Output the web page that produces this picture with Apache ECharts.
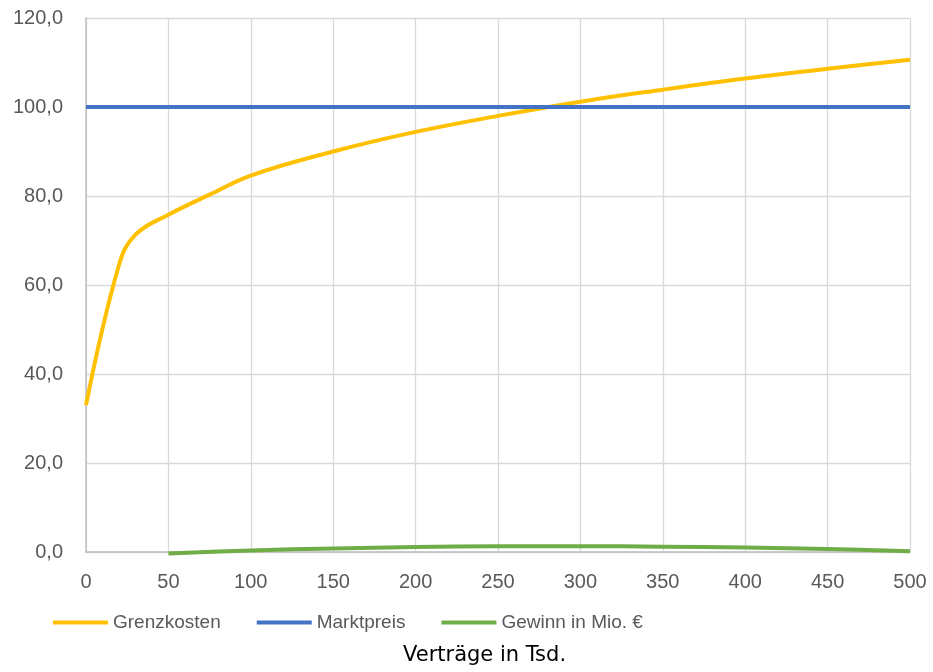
<!DOCTYPE html>
<html><head><meta charset="utf-8">
<script src="https://cdn.jsdelivr.net/npm/echarts@6/dist/echarts.min.js"></script>
<style>html,body{margin:0;padding:0;background:#fff}#c{width:933px;height:672px}</style>
</head><body><div id="c"></div>
<script>
const xGrenz = [0, 20, 30, 50, 75, 100, 150, 200, 250, 300, 350, 400, 450, 500];
const grenzkosten = [33.0, 64.5, 71.3, 75.8, 80.3, 84.6, 90.0, 94.4, 98.0, 101.2, 103.9, 106.4, 108.6, 110.6];
const xMarkt = [0, 500];
const marktpreis = [100, 100];
const xGewinn = [50, 100, 150, 200, 250, 300, 350, 400, 450, 500];
const gewinn = [-0.35, 0.35, 0.8, 1.1, 1.28, 1.3, 1.2, 1.0, 0.67, 0.15];
const xName = 'Verträge in Tsd.';

const pair = (xs, ys) => xs.map((x, i) => [x, ys[i]]);
const font = 'Liberation Sans, Arial, sans-serif';
const chart = echarts.init(document.getElementById('c'));
chart.setOption({
  animation: false,
  textStyle: {fontFamily: font},
  grid: {left: 86, right: 23, top: 18, bottom: 120, containLabel: false},
  legend: {
    top: 613, left: 53, itemWidth: 55, itemHeight: 4, itemGap: 36,
    icon: 'rect', padding: 0,
    textStyle: {color: '#595959', fontSize: 19, fontFamily: font},
    data: ['Grenzkosten', 'Marktpreis', 'Gewinn in Mio. €']
  },
  graphic: [{
    type: 'text', left: 403, top: 645,
    style: {text: xName, fill: '#000', font: '21px "DejaVu Sans"'}
  }],
  xAxis: {
    type: 'value', min: 0, max: 500, interval: 50,
    axisLine: {show: true, lineStyle: {color: '#bfbfbf', width: 1.5}},
    axisTick: {show: false},
    axisLabel: {color: '#595959', fontSize: 20, margin: 20},
    splitLine: {show: true, lineStyle: {color: '#d9d9d9', width: 1.3}}
  },
  yAxis: {
    type: 'value', min: 0, max: 120, interval: 20,
    axisLine: {show: true, lineStyle: {color: '#bfbfbf', width: 1.5}},
    axisTick: {show: false},
    axisLabel: {color: '#595959', fontSize: 20, margin: 23,
      formatter: v => v.toFixed(1).replace('.', ',')},
    splitLine: {show: true, lineStyle: {color: '#d9d9d9', width: 1.3}}
  },
  series: [
    {name: 'Grenzkosten', type: 'line', data: pair(xGrenz, grenzkosten), smooth: 0.4,
      showSymbol: false, lineStyle: {color: '#ffc000', width: 4}, itemStyle: {color: '#ffc000'}},
    {name: 'Marktpreis', type: 'line', data: pair(xMarkt, marktpreis),
      showSymbol: false, lineStyle: {color: '#4472c4', width: 4}, itemStyle: {color: '#4472c4'}},
    {name: 'Gewinn in Mio. €', type: 'line', data: pair(xGewinn, gewinn), smooth: 0.35, clip: false,
      showSymbol: false, lineStyle: {color: '#70ad47', width: 4}, itemStyle: {color: '#70ad47'}}
  ]
});
</script></body></html>
